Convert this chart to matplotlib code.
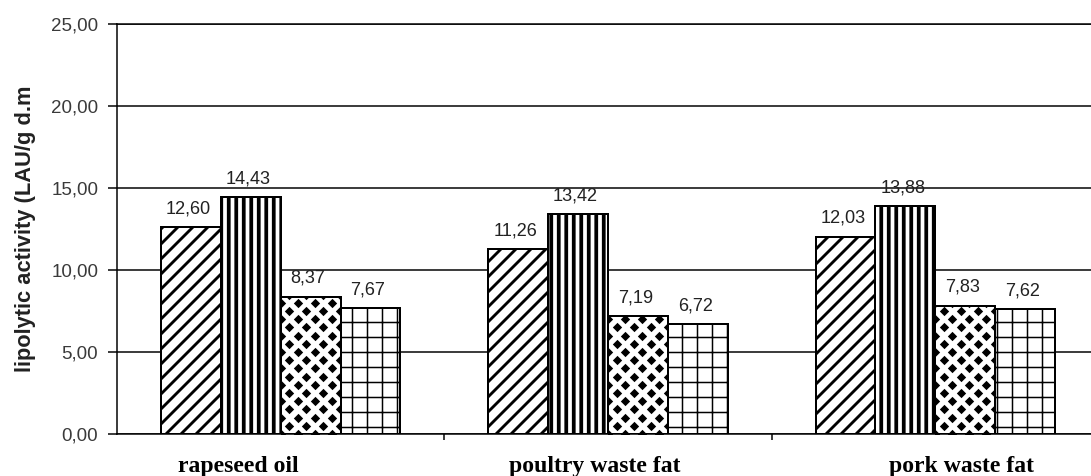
import numpy as np
import matplotlib.pyplot as plt

categorias = ["rapeseed oil", "poultry waste fat", "pork waste fat"]
serie_1 = [12.60, 11.26, 12.03]
serie_2 = [14.43, 13.42, 13.88]
serie_3 = [8.37, 7.19, 7.83]
serie_4 = [7.67, 6.72, 7.62]
valores_y = [0, 5, 10, 15, 20, 25]

plt.rcParams['font.family'] = ['Liberation Sans', 'DejaVu Sans']
DPI = 90


def rotulo(v):
    return f"{v:.2f}".replace(".", ",")


def losangos(ax, barra):
    # padrão de losangos pretos preenchendo a barra
    x0, w, h = barra.get_x(), barra.get_width(), barra.get_height()
    dx, dy = 0.052, 0.5
    xs, ys = [], []
    for j, y in enumerate(np.arange(0, h + dy, dy)):
        desloc = 0 if j % 2 == 0 else dx / 2
        for xi in np.arange(x0 + desloc, x0 + w + dx, dx):
            xs.append(xi)
            ys.append(y)
    pts = ax.scatter(xs, ys, marker='D', s=28, color='black', linewidths=0, zorder=2.5)
    pts.set_clip_path(barra)


fig = plt.figure(figsize=(1091 / DPI, 476 / DPI), dpi=DPI)
ax = fig.add_axes([117 / 1091, 42 / 476, 982 / 1091, 410 / 476])

x = np.arange(len(categorias))
largura = 0.183
series = [serie_1, serie_2, serie_3, serie_4]
hachuras = ['//', '||', '', '+']
espessuras = [2.3, 3.0, 1.0, 1.2]

for i, (serie, hachura, esp) in enumerate(zip(series, hachuras, espessuras)):
    pos = x + (i - 1.5) * largura
    barras = ax.bar(pos, serie, largura, color='white', edgecolor='black',
                    linewidth=1.5, hatch=hachura or None, zorder=2)
    for b in barras:
        b.set_hatch_linewidth(esp)
        if hachura == '':
            losangos(ax, b)
    # contorno por cima do preenchimento
    ax.bar(pos, serie, largura, fill=False, edgecolor='black', linewidth=1.5, zorder=3)
    for xi, v in zip(pos, serie):
        ax.annotate(rotulo(v), (xi, v), xytext=(-2, 11), textcoords='offset points',
                    ha='center', va='baseline', fontsize=14.5, color='#222222')

ax.set_xlim(-0.5, 2.5)
ax.set_ylim(0, 25)
ax.set_yticks(valores_y)
ax.set_yticklabels([rotulo(v) for v in valores_y], fontsize=15, color='#3a3a3a')
ax.yaxis.grid(True, color='black', linewidth=1.2)
ax.set_axisbelow(True)
ax.tick_params(axis='y', direction='out', length=7, width=1.2, pad=8)

ax.set_xticks([0.5, 1.5])
ax.set_xticklabels([])
ax.tick_params(axis='x', direction='out', length=5, width=1.2)

ax.spines['right'].set_visible(False)
ax.spines['top'].set_linewidth(1.2)
ax.spines['left'].set_linewidth(1.2)
ax.spines['bottom'].set_linewidth(1.2)

ax.set_ylabel("lipolytic activity (LAU/g d.m", fontsize=17.5, fontweight='bold',
              color='#222222', labelpad=12)

deslocamentos = [-0.13, -0.04, 0.08]
for xi, nome, d in zip(x, categorias, deslocamentos):
    ax.text(xi + d, -0.093, nome, transform=ax.get_xaxis_transform(),
            ha='center', va='baseline', fontsize=19, fontweight='bold',
            family='Liberation Serif')

fig.savefig('out.png', dpi=DPI)
